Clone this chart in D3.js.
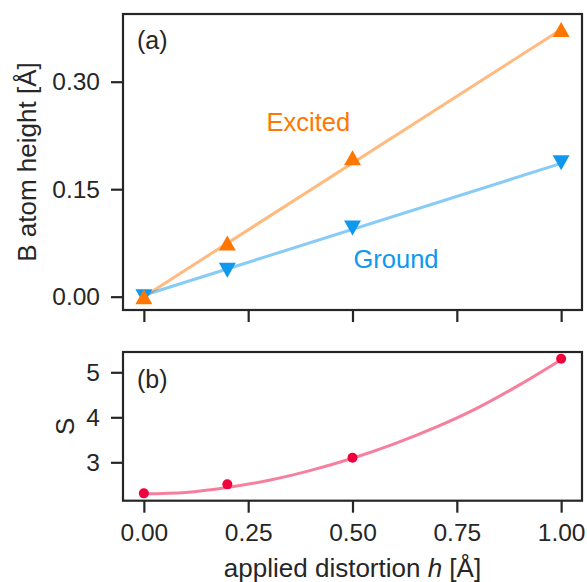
<!DOCTYPE html>
<html>
<head>
<meta charset="utf-8">
<script src="https://cdn.jsdelivr.net/npm/d3@7"></script>
<style>
  html, body { margin: 0; padding: 0; background: #ffffff; }
  svg { display: block; font-family: "Liberation Sans", Arial, Helvetica, sans-serif; }
</style>
</head>
<body>
<svg id="chart" width="587" height="582"></svg>
<script>
// ---------------- data ----------------
const distortion = [0.0, 0.2, 0.5, 1.0];              // applied distortion h [Å]
const excitedHeight = [0.0, 0.075, 0.194, 0.373];      // B atom height, excited state
const groundHeight = [0.0, 0.037, 0.096, 0.187];       // B atom height, ground state
const fitH = [0.0, 1.0];                               // linear fit end points
const excitedFit = [0.0, 0.373];
const groundFit = [0.002, 0.186];
const sValues = [2.31, 2.51, 3.10, 5.30];              // S at each distortion
const sFitH = [0.0, 0.1, 0.2, 0.3, 0.4, 0.5, 0.6, 0.7, 0.8, 0.9, 1.0];
const sFit = [2.30, 2.33, 2.44, 2.60, 2.82, 3.09, 3.41, 3.78, 4.21, 4.72, 5.28];
const xTicks = [0.0, 0.25, 0.5, 0.75, 1.0];
const xTickLabels = ["0.00", "0.25", "0.50", "0.75", "1.00"];
const topYTicks = [0.0, 0.15, 0.30];
const topYTickLabels = ["0.00", "0.15", "0.30"];
const botYTicks = [3, 4, 5];
const botYTickLabels = ["3", "4", "5"];
const seriesLabels = ["Excited", "Ground"];
const seriesLabelPos = [[0.294, 0.2312], [0.5024, 0.040]];

// ---------------- styles ----------------
const ink = "#262626";
const orange = "#ff7700";
const blue = "#0f98ee";
const red = "#f0003c";
const tickFont = 24.5;
const labelFont = 26;

const svg = d3.select("#chart");

const L = 123, R = 582;
const panelA = { y0: 14, y1: 310 };
const panelB = { y0: 352, y1: 500.7 };

const x = d3.scaleLinear().domain([-0.05, 1.05]).range([L, R]);
const yTop = d3.scaleLinear().domain([-0.0186, 0.3945]).range([panelA.y1, panelA.y0]);
const yBot = d3.scaleLinear().domain([2.147, 5.451]).range([panelB.y1, panelB.y0]);

function styleAxis(g) {
  g.select(".domain").remove();
  g.selectAll(".tick line").attr("stroke", ink).attr("stroke-width", 2.2);
  g.selectAll(".tick text").attr("fill", ink).style("font-size", tickFont + "px")
    .style("font-family", '"Liberation Sans", Arial, sans-serif');
}

// ---------- top panel ----------
svg.append("g").attr("transform", `translate(${L},0)`)
  .call(d3.axisLeft(yTop).tickValues(topYTicks).tickFormat((d, i) => topYTickLabels[i]).tickSize(12).tickPadding(11))
  .call(styleAxis);
svg.append("g").attr("transform", `translate(0,${panelA.y1})`)
  .call(d3.axisBottom(x).tickValues(xTicks).tickFormat("").tickSize(12))
  .call(styleAxis);

const line = (ys) => d3.line().x((d, i) => x(fitH[i])).y((d) => ys(d));

svg.append("path").datum(excitedFit)
  .attr("d", line(yTop))
  .attr("fill", "none").attr("stroke", orange).attr("stroke-opacity", 0.5).attr("stroke-width", 3);
svg.append("path").datum(groundFit)
  .attr("d", line(yTop))
  .attr("fill", "none").attr("stroke", blue).attr("stroke-opacity", 0.5).attr("stroke-width", 3);

const triW = 17, triH = 15;
const triUp = `M0,${-triH / 2}L${triW / 2},${triH / 2}L${-triW / 2},${triH / 2}Z`;
const triDown = `M0,${triH / 2}L${triW / 2},${-triH / 2}L${-triW / 2},${-triH / 2}Z`;

svg.append("g").selectAll("path").data(groundHeight).join("path")
  .attr("d", triDown)
  .attr("transform", (d, i) => `translate(${x(distortion[i])},${yTop(d)})`)
  .attr("fill", blue);
svg.append("g").selectAll("path").data(excitedHeight).join("path")
  .attr("d", triUp)
  .attr("transform", (d, i) => `translate(${x(distortion[i])},${yTop(d)})`)
  .attr("fill", orange);

[orange, blue].forEach((c, i) => {
  svg.append("text")
    .attr("x", x(seriesLabelPos[i][0])).attr("y", yTop(seriesLabelPos[i][1]))
    .attr("fill", c).style("font-size", "25.5px")
    .text(seriesLabels[i]);
});

svg.append("rect").attr("x", L).attr("y", panelA.y0).attr("width", R - L).attr("height", panelA.y1 - panelA.y0)
  .attr("fill", "none").attr("stroke", ink).attr("stroke-width", 2.2);

svg.append("text").attr("x", 137).attr("y", 49).attr("fill", ink).style("font-size", "25px").text("(a)");

svg.append("text")
  .attr("transform", `translate(36,${(panelA.y0 + panelA.y1) / 2}) rotate(-90)`)
  .attr("text-anchor", "middle").attr("fill", ink).style("font-size", labelFont + "px")
  .text("B atom height [Å]");

// ---------- bottom panel ----------
svg.append("g").attr("transform", `translate(${L},0)`)
  .call(d3.axisLeft(yBot).tickValues(botYTicks).tickFormat((d, i) => botYTickLabels[i]).tickSize(12).tickPadding(11))
  .call(styleAxis);
svg.append("g").attr("transform", `translate(0,${panelB.y1})`)
  .call(d3.axisBottom(x).tickValues(xTicks).tickFormat((d, i) => xTickLabels[i]).tickSize(12).tickPadding(11))
  .call(styleAxis);

svg.append("path").datum(sFit)
  .attr("d", d3.line().x((d, i) => x(sFitH[i])).y((d) => yBot(d)).curve(d3.curveCatmullRom))
  .attr("fill", "none").attr("stroke", red).attr("stroke-opacity", 0.5).attr("stroke-width", 3);

svg.append("g").selectAll("circle").data(sValues).join("circle")
  .attr("cx", (d, i) => x(distortion[i])).attr("cy", (d) => yBot(d))
  .attr("r", 5).attr("fill", red);

svg.append("rect").attr("x", L).attr("y", panelB.y0).attr("width", R - L).attr("height", panelB.y1 - panelB.y0)
  .attr("fill", "none").attr("stroke", ink).attr("stroke-width", 2.2);

svg.append("text").attr("x", 137).attr("y", 388).attr("fill", ink).style("font-size", "25px").text("(b)");

svg.append("text")
  .attr("transform", `translate(74,${(panelB.y0 + panelB.y1) / 2}) rotate(-90)`)
  .attr("text-anchor", "middle").attr("fill", ink).style("font-size", labelFont + "px")
  .text("S");

const xl = svg.append("text")
  .attr("x", (L + R) / 2).attr("y", 577)
  .attr("text-anchor", "middle").attr("fill", ink).style("font-size", labelFont + "px");
xl.append("tspan").text("applied distortion ");
xl.append("tspan").style("font-style", "italic").text("h");
xl.append("tspan").text(" [Å]");
</script>
</body>
</html>
